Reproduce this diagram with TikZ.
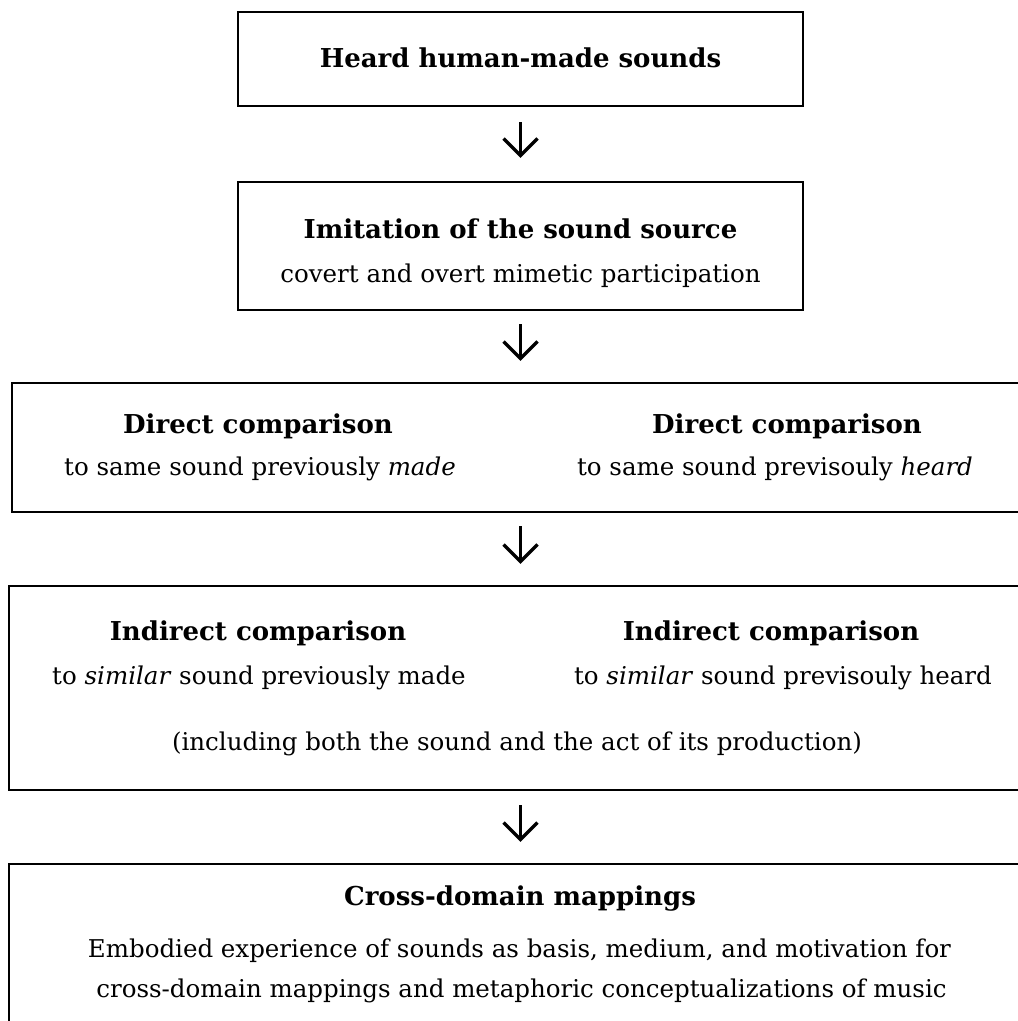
\documentclass[tikz,border=0pt]{standalone}
\usepackage{fontspec}
\setmainfont{DejaVu Serif}
\usetikzlibrary{arrows.meta,calc}
\begin{document}
\begin{tikzpicture}[x=1pt,y=-1pt,
  box/.style={draw,line width=2.2pt,rectangle,inner sep=0pt},
  ttl/.style={anchor=base,font=\fontsize{26}{30}\selectfont\bfseries,inner sep=0pt},
  sub/.style={anchor=base,font=\fontsize{24.5}{28}\selectfont,inner sep=0pt},
  flow/.style={line width=3.4pt,-{Straight Barb[length=17pt,width=34pt]}}]
\useasboundingbox (0,0) rectangle (1018,1021);
\clip (0,0) rectangle (1018,1021);
% boxes
\node[box,minimum width=565pt,minimum height=94pt] (b1) at (520.5,59) {};
\node[box,minimum width=565pt,minimum height=128pt] (b2) at (520.5,246) {};
\node[box,minimum width=1028pt,minimum height=129pt] (b3) at (526,447.5) {};
\node[box,minimum width=1031pt,minimum height=204pt] (b4) at (524.5,688) {};
\node[box,minimum width=1031pt,minimum height=216pt] (b5) at (524.5,972) {};
% texts
\node[ttl] (t1) at (520.5,67) {Heard human-made sounds};
\node[ttl] (t2) at (520.5,238) {Imitation of the sound source};
\node[sub] (s2) at (520.5,282) {covert and overt mimetic participation};
\node[ttl] (t3a) at (258,433) {Direct comparison};
\node[sub] (s3a) at (260,475) {to same sound previously \textit{made}};
\node[ttl] (t3b) at (787,433) {Direct comparison};
\node[sub] (s3b) at (775,475) {to same sound previsouly \textit{heard}};
\node[ttl] (t4a) at (258,640) {Indirect comparison};
\node[sub] (s4a) at (259,684) {to \textit{similar} sound previously made};
\node[ttl] (t4b) at (771,640) {Indirect comparison};
\node[sub] (s4b) at (783,684) {to \textit{similar} sound previsouly heard};
\node[sub] (s4c) at (517,750) {(including both the sound and the act of its production)};
\node[ttl] (t5) at (520,905) {Cross-domain mappings};
\node[sub] (s5a) at (519.5,957) {Embodied experience of sounds as basis, medium, and motivation for};
\node[sub] (s5b) at (521.5,997) {cross-domain mappings and metaphoric conceptualizations of music};
% arrows
\draw[flow,shorten <=15pt,shorten >=23pt] (b1) -- (b2);
\draw[flow,shorten <=13pt,shorten >=21pt] (b2) -- (b2.south |- b3.north);
\draw[flow,shorten <=13pt,shorten >=21pt] (b2.south |- b3.south) -- (b2.south |- b4.north);
\draw[flow,shorten <=14pt,shorten >=21pt] (b2.south |- b4.south) -- (b2.south |- b5.north);
\end{tikzpicture}
\end{document}
